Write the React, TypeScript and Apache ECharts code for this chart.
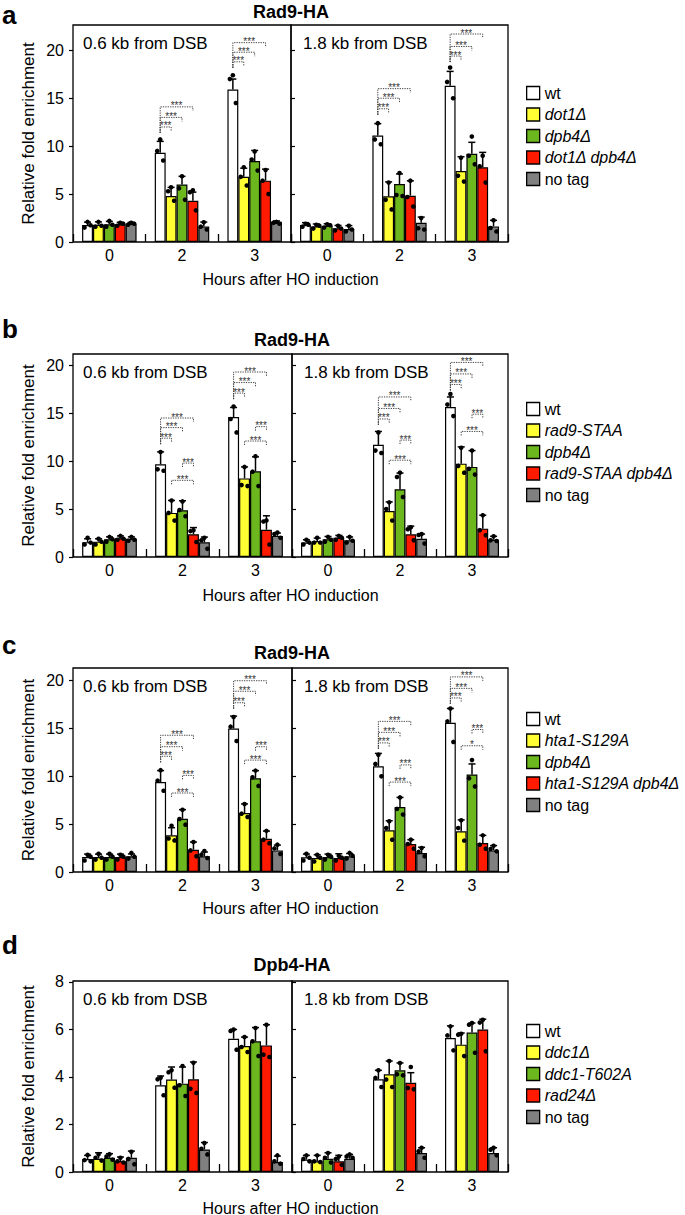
import React, { useEffect, useRef } from 'react';
import * as echarts from 'echarts';

const FONT = '"Liberation Sans", Arial, Helvetica, sans-serif';
const HOURS = ['0', '2', '3'];
const COLORS = ['#ffffff', '#ffff33', '#6cb61e', '#ff1a00', '#808080'];
const TICKS_RAD9 = [0, 5, 10, 15, 20];
const TICKS_DPB4 = [0, 2, 4, 6, 8];

const strainsA = ['wt', 'dot1Δ', 'dpb4Δ', 'dot1Δ dpb4Δ', 'no tag'];
const strainsB = ['wt', 'rad9-STAA', 'dpb4Δ', 'rad9-STAA dpb4Δ', 'no tag'];
const strainsC = ['wt', 'hta1-S129A', 'dpb4Δ', 'hta1-S129A dpb4Δ', 'no tag'];
const strainsD = ['wt', 'ddc1Δ', 'ddc1-T602A', 'rad24Δ', 'no tag'];
const plainNames = ['wt', 'no tag'];

// ---- Panel a (Rad9-HA), rows = strain, cols = hours 0,2,3 ----
const a06Mean = [[1.77, 9.3, 15.9], [1.8, 4.8, 6.8], [1.85, 6.0, 8.45], [1.85, 4.3, 6.4], [1.9, 1.63, 2.1]];
const a06Sd = [[0.3, 1.2, 1.1], [0.3, 0.9, 0.9], [0.3, 0.85, 1.1], [0.2, 0.9, 1.2], [0.15, 0.45, 0.1]];
const a06Dots = [
  [[2.1, 1.5, 1.75], [10.7, 9.5, 8.5], [17.4, 17.0, 14.5]],
  [[2.1, 1.6, 1.7], [5.7, 5.3, 4.3], [7.8, 6.8, 5.9]],
  [[2.2, 1.6, 1.8], [6.85, 5.6, 4.4], [9.45, 8.6, 7.45]],
  [[2.0, 1.7, 1.9], [5.4, 5.2, 3.3], [7.5, 6.4, 5.0]],
  [[2.0, 1.8, 1.9], [2.05, 1.6, 1.3], [2.1, 2.0, 1.9]],
];
const a06Sig = [
  [1, 0, 1, 12.0, '***'], [1, 0, 2, 13.0, '***'], [1, 0, 3, 14.1, '***'],
  [2, 0, 1, 18.8, '***'], [2, 0, 2, 19.8, '***'], [2, 0, 3, 20.8, '***'],
];
const a18Mean = [[1.77, 11.1, 16.3], [1.63, 4.77, 7.4], [1.7, 6.05, 9.2], [1.43, 4.83, 7.8], [1.36, 2.0, 1.63]];
const a18Sd = [[0.25, 1.25, 1.5], [0.25, 1.5, 1.5], [0.2, 1.05, 1.2], [0.3, 1.55, 1.55], [0.35, 0.6, 0.63]];
const a18Dots = [
  [[1.9, 1.6, 1.8], [12.4, 10.7, 10.2], [18.2, 16.7, 15.0]],
  [[1.8, 1.4, 1.7], [6.2, 4.4, 3.4], [8.8, 6.9, 6.3]],
  [[1.85, 1.5, 1.75], [7.2, 4.9, 4.8], [11.0, 9.0, 8.1]],
  [[1.7, 1.2, 1.4], [6.4, 4.7, 3.7], [9.0, 7.9, 6.2]],
  [[1.7, 1.1, 1.3], [2.5, 1.43, 1.3], [2.26, 1.46, 1.1]],
];
const a18Sig = [
  [1, 0, 1, 13.9, '***'], [1, 0, 2, 15.0, '***'], [1, 0, 3, 16.0, '***'],
  [2, 0, 1, 19.4, '***'], [2, 0, 2, 20.4, '***'], [2, 0, 3, 21.7, '***'],
];

// ---- Panel b (Rad9-HA, rad9-STAA) ----
const b06Mean = [[1.55, 9.67, 14.6], [1.6, 4.6, 8.2], [1.85, 4.87, 8.95], [1.95, 2.37, 2.85], [1.9, 1.53, 2.2]];
const b06Sd = [[0.35, 1.3, 1.0], [0.3, 1.3, 1.2], [0.25, 1.0, 1.5], [0.25, 0.7, 1.45], [0.2, 0.55, 0.3]];
const b06Dots = [
  [[2.0, 1.3, 1.5], [10.95, 9.15, 9.0], [15.7, 14.4, 13.0]],
  [[1.9, 1.3, 1.6], [5.9, 4.6, 3.8], [9.4, 7.5, 7.4]],
  [[2.1, 1.6, 1.85], [5.8, 4.9, 4.25], [10.5, 8.9, 7.4]],
  [[2.2, 1.8, 1.9], [2.8, 2.7, 1.57], [3.8, 3.7, 1.3]],
  [[2.1, 1.7, 1.8], [2.0, 1.75, 0.85], [2.55, 2.4, 2.0]],
];
const b06Sig = [
  [1, 0, 1, 12.4, '***'], [1, 0, 2, 13.5, '***'], [1, 0, 3, 14.5, '***'],
  [1, 2, 3, 9.8, '***'], [1, 1, 3, 8.0, '***'],
  [2, 0, 1, 17.1, '***'], [2, 0, 2, 18.2, '***'], [2, 0, 3, 19.3, '***'],
  [2, 2, 3, 13.6, '***'], [2, 1, 3, 12.1, '***'],
];
const b18Mean = [[1.5, 11.7, 15.65], [1.67, 4.8, 9.74], [1.84, 7.06, 9.4], [2.0, 2.37, 2.96], [1.74, 1.9, 1.8]];
const b18Sd = [[0.3, 1.4, 1.05], [0.3, 0.95, 1.75], [0.3, 1.7, 1.7], [0.25, 0.85, 1.4], [0.35, 0.5, 0.36]];
const b18Dots = [
  [[1.8, 1.3, 1.5], [13.0, 11.1, 10.85], [17.0, 15.9, 14.7]],
  [[2.0, 1.5, 1.5], [5.7, 5.0, 3.8], [11.4, 9.5, 8.8]],
  [[2.1, 1.6, 1.8], [8.8, 8.35, 6.26], [11.1, 9.2, 8.6]],
  [[2.2, 1.8, 2.0], [3.1, 2.9, 1.74], [4.35, 2.8, 2.26]],
  [[2.1, 1.5, 1.7], [2.4, 2.3, 1.4], [2.16, 1.74, 1.67]],
];
const b18Sig = [
  [1, 0, 1, 14.4, '***'], [1, 0, 2, 15.5, '***'], [1, 0, 3, 16.7, '***'],
  [1, 2, 3, 12.2, '***'], [1, 1, 3, 10.1, '***'],
  [2, 0, 1, 18.0, '***'], [2, 0, 2, 19.1, '***'], [2, 0, 3, 20.3, '***'],
  [2, 2, 3, 14.9, '***'], [2, 1, 3, 13.1, '***'],
];

// ---- Panel c (Rad9-HA, hta1-S129A) ----
const c06Mean = [[1.57, 9.4, 15.0], [1.57, 3.83, 6.17], [1.57, 5.57, 9.8], [1.57, 2.33, 3.48], [1.64, 1.64, 2.26]];
const c06Sd = [[0.3, 1.2, 1.3], [0.3, 0.8, 0.95], [0.3, 0.95, 0.8], [0.3, 0.8, 0.8], [0.25, 0.45, 0.55]];
const c06Dots = [
  [[1.8, 1.2, 1.6], [10.65, 9.55, 8.5], [16.2, 15.2, 13.7]],
  [[1.9, 1.3, 1.5], [4.84, 3.5, 3.3], [7.1, 6.1, 5.75]],
  [[1.9, 1.3, 1.6], [6.5, 5.54, 4.95], [10.6, 9.9, 9.0]],
  [[1.8, 1.3, 1.6], [3.13, 2.26, 1.64], [4.3, 3.38, 3.0]],
  [[2.0, 1.4, 1.6], [2.2, 1.8, 1.46], [2.86, 2.47, 1.88]],
];
const c06Sig = [
  [1, 0, 1, 12.1, '***'], [1, 0, 2, 13.1, '***'], [1, 0, 3, 14.3, '***'],
  [1, 2, 3, 10.1, '***'], [1, 1, 3, 8.26, '***'],
  [2, 0, 1, 17.7, '***'], [2, 0, 2, 18.9, '***'], [2, 0, 3, 20.0, '***'],
  [2, 2, 3, 13.1, '***'], [2, 1, 3, 11.7, '***'],
];
const c18Mean = [[1.53, 11.05, 15.6], [1.46, 4.36, 4.25], [1.57, 6.8, 10.2], [1.46, 2.93, 3.03], [1.64, 1.99, 2.26]];
const c18Sd = [[0.35, 1.35, 1.5], [0.35, 1.0, 1.2], [0.3, 1.0, 1.1], [0.45, 0.45, 0.8], [0.3, 0.6, 0.5]];
const c18Dots = [
  [[1.9, 1.2, 1.5], [12.27, 11.3, 10.0], [17.1, 15.75, 13.6]],
  [[1.8, 1.1, 1.5], [5.3, 4.6, 3.38], [5.4, 4.6, 3.28]],
  [[1.8, 1.3, 1.6], [7.8, 6.6, 6.0], [11.7, 9.8, 8.95]],
  [[1.7, 1.2, 1.5], [3.38, 2.93, 2.44], [3.83, 2.86, 2.44]],
  [[2.0, 1.4, 1.7], [2.5, 2.1, 1.64], [2.75, 2.4, 2.16]],
];
const c18Sig = [
  [1, 0, 1, 13.5, '***'], [1, 0, 2, 14.6, '***'], [1, 0, 3, 15.75, '***'],
  [1, 2, 3, 11.2, '***'], [1, 1, 3, 9.4, '***'],
  [2, 0, 1, 18.2, '***'], [2, 0, 2, 19.2, '***'], [2, 0, 3, 20.4, '***'],
  [2, 2, 3, 14.9, '***'], [2, 1, 3, 13.2, '*'],
];

// ---- Panel d (Dpb4-HA) ----
const d06Mean = [[0.55, 3.65, 5.61], [0.56, 3.89, 5.3], [0.6, 3.72, 5.5], [0.46, 3.9, 5.33], [0.6, 0.95, 0.42]];
const d06Sd = [[0.15, 0.39, 0.39], [0.25, 0.53, 0.38], [0.17, 0.7, 0.58], [0.17, 0.73, 0.87], [0.28, 0.29, 0.25]];
const d06Dots = [
  [[0.72, 0.5, 0.45], [3.97, 3.9, 3.23], [6.0, 5.94, 5.15]],
  [[0.75, 0.6, 0.48], [4.28, 4.2, 3.55], [5.68, 5.26, 5.05]],
  [[0.75, 0.65, 0.52], [4.46, 3.65, 3.2], [6.06, 5.5, 4.88]],
  [[0.6, 0.45, 0.4], [4.6, 3.5, 3.33], [6.2, 4.94, 4.84]],
  [[0.85, 0.55, 0.33], [1.22, 0.98, 0.74], [0.7, 0.45, 0.35]],
];
const d18Mean = [[0.52, 3.9, 5.64], [0.45, 4.11, 5.36], [0.56, 4.28, 5.87], [0.45, 3.76, 6.0], [0.56, 0.8, 0.8]];
const d18Sd = [[0.18, 0.38, 0.51], [0.25, 0.56, 0.49], [0.25, 0.31, 0.4], [0.25, 0.42, 0.43], [0.18, 0.22, 0.22]];
const d18Dots = [
  [[0.7, 0.55, 0.45], [4.28, 3.96, 3.58], [6.13, 5.75, 5.12]],
  [[0.7, 0.45, 0.42], [4.67, 3.89, 3.58], [5.82, 5.78, 4.88]],
  [[0.8, 0.6, 0.4], [4.59, 4.11, 4.07], [6.27, 6.2, 5.02]],
  [[0.65, 0.55, 0.3], [4.42, 3.54, 3.48], [6.41, 6.29, 5.08]],
  [[0.74, 0.65, 0.6], [1.02, 0.87, 0.6], [1.02, 0.94, 0.7]],
];

// ---- layout (positions only) ----
const PLOT_LEFT = 73;
const PLOT_RIGHT = 508;
const BAR_FRAC = 0.15;
const DOT_DX = [0, -3, 3];
const SIG_COLOR = '#333333';

const PANELS = [
  {
    letter: 'a', title: 'Rad9-HA', strains: strainsA, ticks: TICKS_RAD9, interval: 5,
    top: 25, height: 217, divider: 291, yMax: 22.64, legendTop: 80,
    letterY: 15, titleY: 12, xNameY: 279,
    subs: [
      { label: '0.6 kb from DSB', mean: a06Mean, sd: a06Sd, dots: a06Dots, sig: a06Sig },
      { label: '1.8 kb from DSB', mean: a18Mean, sd: a18Sd, dots: a18Dots, sig: a18Sig },
    ],
  },
  {
    letter: 'b', title: 'Rad9-HA', strains: strainsB, ticks: TICKS_RAD9, interval: 5,
    top: 354, height: 203, divider: 292, yMax: 21.18, legendTop: 396,
    letterY: 329, titleY: 340, xNameY: 595,
    subs: [
      { label: '0.6 kb from DSB', mean: b06Mean, sd: b06Sd, dots: b06Dots, sig: b06Sig },
      { label: '1.8 kb from DSB', mean: b18Mean, sd: b18Sd, dots: b18Dots, sig: b18Sig },
    ],
  },
  {
    letter: 'c', title: 'Rad9-HA', strains: strainsC, ticks: TICKS_RAD9, interval: 5,
    top: 668, height: 204, divider: 292, yMax: 21.33, legendTop: 706,
    letterY: 645, titleY: 653, xNameY: 908,
    subs: [
      { label: '0.6 kb from DSB', mean: c06Mean, sd: c06Sd, dots: c06Dots, sig: c06Sig },
      { label: '1.8 kb from DSB', mean: c18Mean, sd: c18Sd, dots: c18Dots, sig: c18Sig },
    ],
  },
  {
    letter: 'd', title: 'Dpb4-HA', strains: strainsD, ticks: TICKS_DPB4, interval: 2,
    top: 981, height: 191, divider: 292, yMax: 8.04, legendTop: 1018,
    letterY: 945, titleY: 965, xNameY: 1208,
    subs: [
      { label: '0.6 kb from DSB', mean: d06Mean, sd: d06Sd, dots: d06Dots, sig: [] },
      { label: '1.8 kb from DSB', mean: d18Mean, sd: d18Sd, dots: d18Dots, sig: [] },
    ],
  },
];

function renderErr(params: any, api: any) {
  const h = api.value(0);
  const s = api.value(1);
  const m = api.value(2);
  const sd = api.value(3);
  const band = api.size([1, 0])[0];
  const bw = band * BAR_FRAC;
  const base = api.coord([h, m]);
  const cx = base[0] + (s - 2) * bw;
  const top = api.coord([h, m + sd])[1];
  const children: any[] = [
    { type: 'line', shape: { x1: cx, y1: base[1], x2: cx, y2: top }, style: { stroke: '#000', lineWidth: 1.5 } },
    { type: 'line', shape: { x1: cx - 3.5, y1: top, x2: cx + 3.5, y2: top }, style: { stroke: '#000', lineWidth: 1.5 } },
  ];
  [4, 5, 6].forEach((k, j) => {
    const y = api.coord([h, api.value(k)])[1];
    children.push({ type: 'circle', shape: { cx: cx + DOT_DX[j], cy: y, r: 2.3 }, style: { fill: '#000' } });
  });
  return { type: 'group', children };
}

function makeSigRenderer(sig: any[]) {
  return (params: any, api: any) => {
    const r = sig[params.dataIndex];
    const h = r[0], from = r[1], to = r[2], level = r[3], label = r[4];
    const band = api.size([1, 0])[0];
    const bw = band * BAR_FRAC;
    const c = api.coord([h, level]);
    const x1 = c[0] + (from - 2) * bw;
    const x2 = c[0] + (to - 2) * bw;
    const y = c[1];
    let yl = y + 4;
    if (from === 0) {
      const minLevel = Math.min(...sig.filter((q) => q[0] === h && q[1] === 0).map((q) => q[3]));
      yl = api.coord([h, minLevel])[1] + 6;
    }
    return {
      type: 'group',
      children: [
        {
          type: 'polyline',
          shape: { points: [[x1, yl], [x1, y], [x2, y], [x2, y + 4]] },
          style: { stroke: '#444444', fill: null, lineWidth: 1, lineDash: [1.3, 1.1] },
        },
        {
          type: 'text', x: (x1 + x2) / 2, y: y - 1,
          style: {
            text: label, fontSize: 10, fontFamily: FONT, fill: SIG_COLOR,
            align: 'center', verticalAlign: 'middle',
          },
        },
      ],
    };
  };
}

function buildOption() {
  const grid: any[] = [];
  const xAxis: any[] = [];
  const yAxis: any[] = [];
  const series: any[] = [];
  const graphic: any[] = [];
  const legend: any[] = [];

  PANELS.forEach((p, pi) => {
    p.subs.forEach((sub, si) => {
      const gi = pi * 2 + si;
      const left = si === 0 ? PLOT_LEFT : p.divider;
      const width = si === 0 ? p.divider - PLOT_LEFT : PLOT_RIGHT - p.divider;
      grid.push({
        left, top: p.top, width, height: p.height,
        show: true, borderColor: '#000', borderWidth: 1.3, backgroundColor: 'transparent',
      });
      xAxis.push({
        type: 'category', gridIndex: gi, data: HOURS,
        axisLine: { show: false },
        axisTick: { show: true, inside: true, length: 8, interval: 0, lineStyle: { color: '#000', width: 1.3 } },
        axisLabel: { fontSize: 16, color: '#000', fontFamily: FONT, margin: 5 },
        splitLine: { show: false },
      });
      yAxis.push({
        type: 'value', gridIndex: gi, min: 0, max: p.yMax, interval: p.interval,
        axisLine: { show: false },
        splitLine: { show: false },
        axisTick: { show: true, inside: si === 1, length: 4, customValues: p.ticks, lineStyle: { color: '#000', width: 1.2 } },
        axisLabel: {
          show: si === 0, fontSize: 16, color: '#000', fontFamily: FONT, margin: 9, customValues: p.ticks,
          formatter: (v: number) => (p.ticks.includes(v) ? String(v) : ''),
        },
        name: si === 0 ? 'Relative fold enrichment' : '',
        nameLocation: 'middle', nameGap: 36,
        nameTextStyle: { fontSize: 17, color: '#000', fontFamily: FONT },
      });
      sub.mean.forEach((vals, s) => {
        series.push({
          type: 'bar', name: p.strains[s], xAxisIndex: gi, yAxisIndex: gi, data: vals,
          barWidth: BAR_FRAC * 100 + '%', barGap: '0%', silent: true, z: 2,
          itemStyle: { color: COLORS[s], borderColor: '#000', borderWidth: 1.2 },
        });
      });
      const errData: any[] = [];
      sub.mean.forEach((vals, s) =>
        vals.forEach((m, h) => errData.push([h, s, m, sub.sd[s][h], ...sub.dots[s][h]]))
      );
      series.push({
        type: 'custom', xAxisIndex: gi, yAxisIndex: gi, data: errData, renderItem: renderErr,
        itemStyle: { color: '#000' },
        encode: { x: 0, y: 2 }, z: 5, silent: true, clip: false,
      });
      if (sub.sig.length) {
        series.push({
          type: 'custom', xAxisIndex: gi, yAxisIndex: gi,
          data: sub.sig.map((r: any[]) => [r[0], r[3]]),
          renderItem: makeSigRenderer(sub.sig),
          itemStyle: { color: SIG_COLOR },
          encode: { x: 0, y: 1 }, z: 6, silent: true, clip: false,
        });
      }
      graphic.push({
        type: 'text', x: si === 0 ? 83 : p.divider + 12, y: p.top + 18,
        style: { text: sub.label, fontSize: 17, fontFamily: FONT, fill: '#000', align: 'left', verticalAlign: 'middle' },
      });
    });

    graphic.push({
      type: 'text', x: 2, y: p.letterY,
      style: { text: p.letter, fontSize: 26, fontWeight: 'bold', fontFamily: FONT, fill: '#000', align: 'left', verticalAlign: 'middle' },
    });
    graphic.push({
      type: 'text', x: p.divider, y: p.titleY,
      style: { text: p.title, fontSize: 18, fontWeight: 'bold', fontFamily: FONT, fill: '#000', align: 'center', verticalAlign: 'middle' },
    });
    graphic.push({
      type: 'text', x: (PLOT_LEFT + PLOT_RIGHT) / 2, y: p.xNameY,
      style: { text: 'Hours after HO induction', fontSize: 16, fontFamily: FONT, fill: '#000', align: 'center', verticalAlign: 'middle' },
    });

    legend.push({
      orient: 'vertical', left: 521, top: p.legendTop,
      itemWidth: 13, itemHeight: 13, itemGap: 5.5, icon: 'rect', selectedMode: false,
      data: p.strains,
      itemStyle: { borderColor: '#000', borderWidth: 1.3 },
      formatter: (name: string) => (plainNames.includes(name) ? `{n|${name}}` : `{i|${name}}`),
      textStyle: {
        fontSize: 16, color: '#000', fontFamily: FONT,
        rich: {
          n: { fontSize: 16, color: '#000', fontFamily: FONT },
          i: { fontSize: 16, color: '#000', fontFamily: FONT, fontStyle: 'italic' },
        },
      },
    });
  });

  return {
    animation: false,
    backgroundColor: '#ffffff',
    grid, xAxis, yAxis, series, graphic, legend,
  };
}

export default function App() {
  const ref = useRef<HTMLDivElement>(null);
  useEffect(() => {
    if (!ref.current) return;
    const chart = echarts.init(ref.current, undefined, { renderer: 'svg' });
    chart.setOption(buildOption() as any);
    return () => chart.dispose();
  }, []);
  return (
    <div
      ref={ref}
      style={{ position: 'fixed', left: 0, top: 0, width: 685, height: 1215, background: '#fff' }}
    />
  );
}
